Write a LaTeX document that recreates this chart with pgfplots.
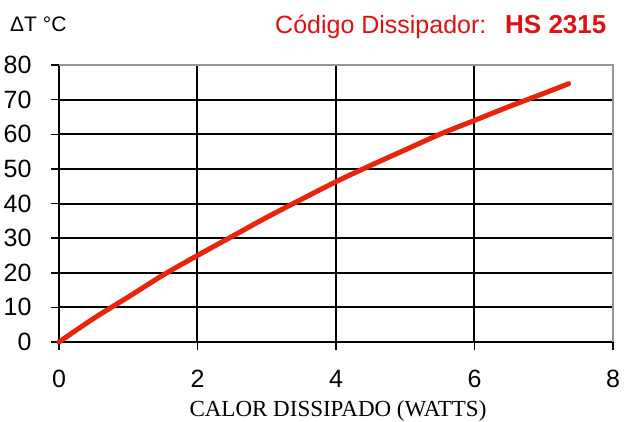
\documentclass[border=0pt]{standalone}
\usepackage{pgfplots}
\pgfplotsset{compat=1.18}
\usepackage{fontspec}
\setmainfont{Liberation Sans}
\newfontfamily\seriffont{Liberation Serif}
\definecolor{curvered}{RGB}{232,36,10}
\definecolor{ttlred}{RGB}{224,16,16}
\definecolor{bordergray}{RGB}{150,150,150}
\begin{document}
\begin{tikzpicture}[x=1pt,y=1pt]
\path[use as bounding box] (0,0) rectangle (624,421);
\begin{axis}[at={(59pt,79pt)}, anchor=south west, scale only axis,
  width=554pt, height=277pt,
  xmin=0, xmax=8, ymin=0, ymax=80,
  xtick={0,2,...,8}, ytick={0,10,...,80},
  axis lines=left, axis line style={-, black, line width=2pt},
  grid=major, major grid style={black, line width=2pt},
  tick align=outside, major tick length=8pt, tick style={black, line width=1.5pt},
  ticklabel style={font=\fontsize{25}{25}\selectfont},
  /pgf/number format/assume math mode=true,
  xticklabel style={yshift=-17pt}, yticklabel style={xshift=-16pt},
  clip=false]
\addplot[curvered, line width=5pt, line cap=round, smooth] coordinates {
(0,0) (0.5,6.8) (1,13) (1.5,19.3) (2,25) (2.5,30.5) (3,36) (3.5,41.2)
(4,46.3) (4.5,51) (5,55.5) (5.5,60) (6,64) (6.5,68) (7,71.8) (7.36,74.6)};
\draw[bordergray, line width=2pt] (rel axis cs:0,1) -- (rel axis cs:1,1) -- (rel axis cs:1,0);
\end{axis}
\node[anchor=base west, inner sep=0pt] at (10,389) {\fontsize{21}{21}\selectfont ΔT °C};
\node[anchor=base west, inner sep=0pt, text=ttlred] at (275,387) {\fontsize{25}{25}\selectfont Código Dissipador:};
\node[anchor=base west, inner sep=0pt, text=ttlred] at (505,387) {\fontsize{26}{26}\selectfont\bfseries HS 2315};
\node[anchor=base, inner sep=0pt] at (338,5) {\seriffont\fontsize{23}{23}\selectfont CALOR DISSIPADO (WATTS)};
\end{tikzpicture}
\end{document}
